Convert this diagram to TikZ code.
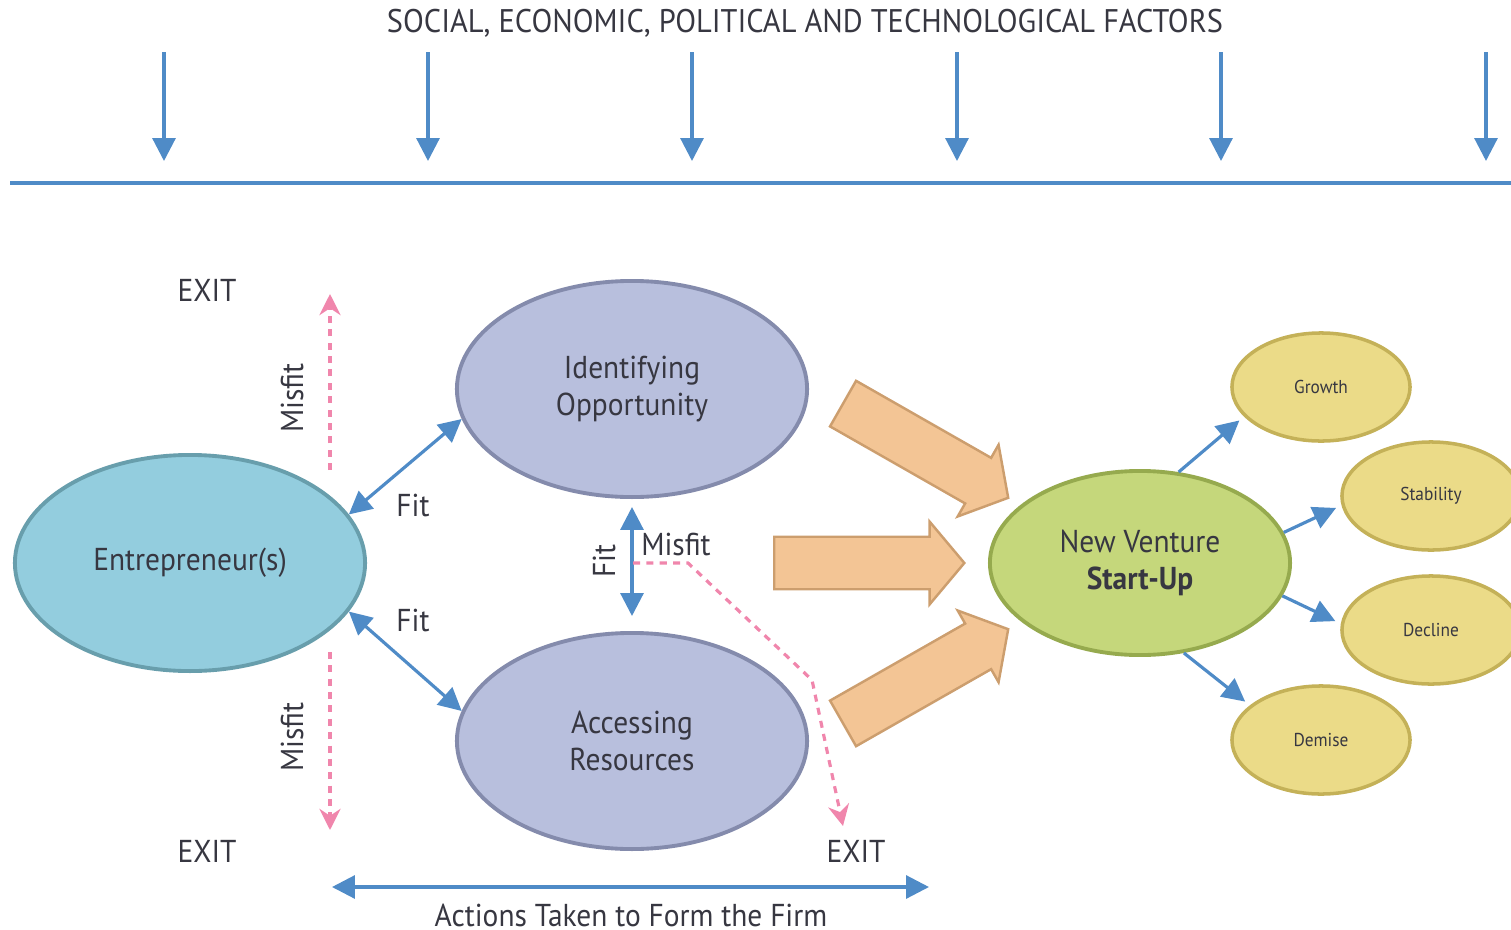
\documentclass[tikz,border=0pt]{standalone}
\usepackage{fontspec}
\setmainfont{PT Sans}[FakeStretch=0.93]
\usepackage{tikz}
\usetikzlibrary{arrows.meta,shapes.geometric,shapes.arrows}
\definecolor{arrowblue}{RGB}{79,139,199}
\definecolor{misfitpink}{RGB}{240,134,172}
\definecolor{textgrey}{RGB}{55,55,65}
\definecolor{entfill}{RGB}{147,205,222}
\definecolor{entline}{RGB}{104,158,172}
\definecolor{lavfill}{RGB}{184,191,221}
\definecolor{lavline}{RGB}{132,139,172}
\definecolor{greenfill}{RGB}{197,215,123}
\definecolor{greenline}{RGB}{150,170,78}
\definecolor{yelfill}{RGB}{235,219,136}
\definecolor{yelline}{RGB}{196,177,88}
\definecolor{orfill}{RGB}{243,197,149}
\definecolor{orline}{RGB}{204,158,110}
\tikzset{
  bigell/.style={ellipse, line width=1.1pt, minimum width=3.5cm, minimum height=2.16cm,
    align=center, font=\fontsize{9}{10.4}\selectfont, text=textgrey},
  smallell/.style={ellipse, fill=yelfill, draw=yelline, line width=1pt,
    minimum width=1.78cm, minimum height=1.08cm, font=\fontsize{5.3}{6}\selectfont, text=textgrey},
  label/.style={font=\fontsize{9}{10}\selectfont, text=textgrey, inner sep=1pt},
  bluearrow/.style={draw=arrowblue, line width=0.9pt, -{Triangle[width=6.5pt,length=6.5pt]}},
  fitarrow/.style={draw=arrowblue, line width=0.9pt, {Triangle[width=6.5pt,length=6.5pt]}-{Triangle[width=6.5pt,length=6.5pt]}},
  misfit/.style={draw=misfitpink, line width=0.9pt, dash pattern=on 2pt off 1.8pt, -{Stealth[width=6pt,length=6pt]}},
  fatarrow/.style={single arrow, anchor=tail, fill=orfill, draw=orline, line width=0.7pt,
    inner xsep=0pt, inner ysep=0.25cm, single arrow head extend=0.15cm,
    single arrow tip angle=100, minimum height=1.9cm}
}
\begin{document}
\begin{tikzpicture}[x=0.01cm, y=-0.01cm]
\useasboundingbox (0,0) rectangle (1511,930);
% environment
\node[label, font=\fontsize{9.3}{10}\selectfont] (factors) at (805,23) {SOCIAL, ECONOMIC, POLITICAL AND TECHNOLOGICAL FACTORS};
\foreach \x [count=\i] in {164,428,692,957,1221,1486}{
  \coordinate (ftop\i) at (\x,52);
  \coordinate (fbot\i) at (\x,161);
  \draw[bluearrow] (ftop\i) -- (fbot\i);
}
\coordinate (lineL) at (10,183);
\coordinate (lineR) at (1511,183);
\draw[arrowblue, line width=1.2pt] (lineL) -- (lineR);
% process
\node[bigell, fill=entfill, draw=entline] (ent) at (190,563) {Entrepreneur(s)};
\node[bigell, fill=lavfill, draw=lavline] (opp) at (632,389) {Identifying\\Opportunity};
\node[bigell, fill=lavfill, draw=lavline] (res) at (632,741) {Accessing\\Resources};
\node[bigell, fill=greenfill, draw=greenline, minimum width=3cm, minimum height=1.84cm] (nv) at (1140,563) {New Venture\\\textbf{Start-Up}};
\node[smallell] (grow) at (1321,387) {Growth};
\node[smallell] (stab) at (1431,496) {Stability};
\node[smallell] (dec) at (1431,630) {Decline};
\node[smallell] (dem) at (1321,740) {Demise};
\draw[fitarrow] (ent.17) -- (opp.190);
\draw[fitarrow] (ent.-17) -- (res.170);
\draw[fitarrow, shorten <=0.08cm, shorten >=0.15cm] (opp) -- (res);
\node[label] (fit1) at (413,505) {Fit};
\node[label] (fit2) at (413,620) {Fit};
\node[label, rotate=90] (fit3) at (604,561) {Fit};
\node[label] (misfit3) at (676,544) {Misfit};
% fat arrows into the start-up
\node[fatarrow, rotate=-29.7] (fatTop) at (842,403) {};
\node[fatarrow] (fatMid) at (773,563) {};
\node[fatarrow, rotate=29.7] (fatBot) at (842,724) {};
% outcomes
\draw[bluearrow, shorten >=0.06cm] (nv.67) -- (grow.201);
\draw[bluearrow, shorten >=0.06cm] (nv.12) -- (stab.186);
\draw[bluearrow, shorten >=0.06cm] (nv.-13) -- (dec.176);
\draw[bluearrow, shorten >=0.06cm] (nv.-64) -- (dem.154);
% exits
\coordinate (upStart) at (330,470);
\coordinate (upExit) at (330,294);
\coordinate (downStart) at (330,652);
\coordinate (downExit) at (330,830);
\coordinate (split) at (633,563);
\coordinate (bend1) at (688,563);
\coordinate (bend2) at (812,680);
\coordinate (resExit) at (843,826);
\draw[misfit] (upStart) -- (upExit);
\draw[misfit] (downStart) -- (downExit);
\draw[misfit] (split) -- (bend1) -- (bend2) -- (resExit);
\node[label, rotate=90] (misfit1) at (292,398) {Misfit};
\node[label, rotate=90] (misfit2) at (292,737) {Misfit};
\node[label] (exit1) at (207,290) {EXIT};
\node[label] (exit2) at (207,851) {EXIT};
\node[label] (exit3) at (856,851) {EXIT};
% actions
\coordinate (actL) at (332,887);
\coordinate (actR) at (929,887);
\draw[fitarrow] (actL) -- (actR);
\node[label] (actions) at (631,915) {Actions Taken to Form the Firm};
\end{tikzpicture}
\end{document}
